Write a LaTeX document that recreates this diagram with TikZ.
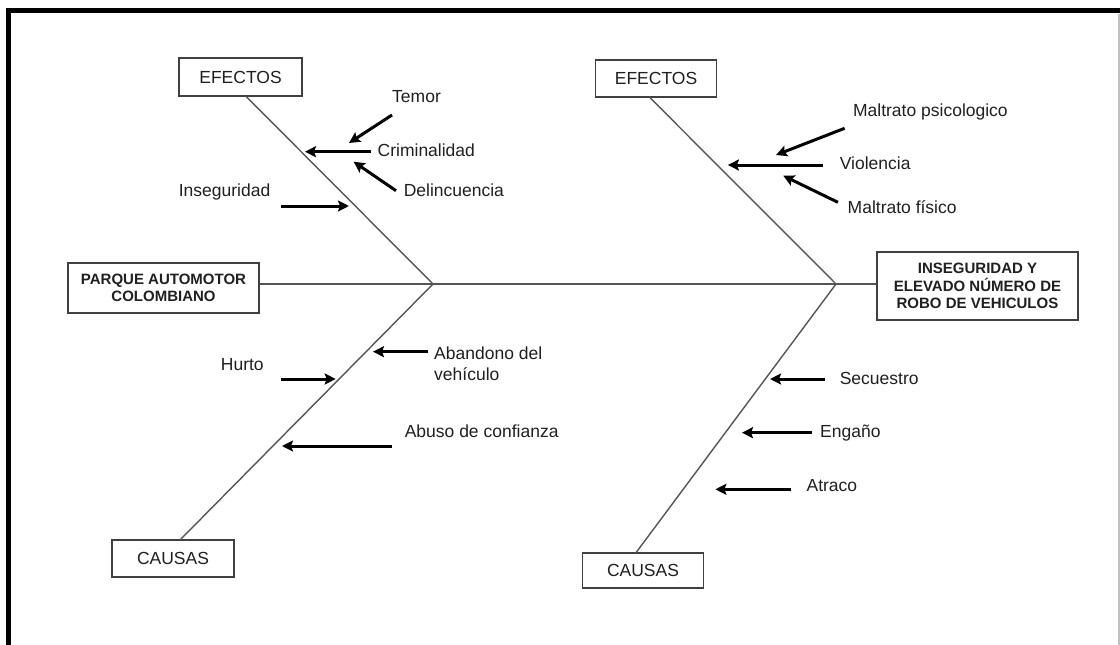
\documentclass[tikz,border=0pt]{standalone}
\usepackage{fontspec}
\setmainfont{Liberation Sans}
\usetikzlibrary{arrows.meta}
\definecolor{txt}{HTML}{202020}
\definecolor{boxc}{HTML}{404040}
\definecolor{bonec}{HTML}{555555}
\begin{document}
\begin{tikzpicture}[x=1pt,y=-1pt,
  box/.style={draw=boxc,line width=1.6pt,inner sep=0pt,text=txt,align=center},
  boxtxt/.style={font=\fontsize{17.5}{20}\selectfont},
  boldtxt/.style={font=\bfseries\fontsize{15}{17.5}\selectfont},
  lbl/.style={anchor=west,inner sep=0pt,text=txt,font=\fontsize{17.5}{20}\selectfont,text height=0.72em,text depth=0pt},
  bone/.style={draw=bonec,line width=1.4pt},
  arr/.style={-{Stealth[length=11pt,width=11pt,inset=2pt]},line width=3pt,draw=black}]
\useasboundingbox (0,0) rectangle (1120,645);
\fill[white] (0,0) rectangle (1120,645);
% frame
\draw[line width=5pt,line join=miter] (8,645) -- (8,10.8) -- (1120,10.8);
\draw[black!25,line width=1.2pt] (1119,13.5) -- (1119,645);

% boxes
\node[box,boxtxt,minimum width=123pt,minimum height=38pt] (ef1) at (240.5,77) {EFECTOS};
\node[box,boxtxt,minimum width=121pt,minimum height=37pt] (ef2) at (656,78.3) {EFECTOS};
\node[box,boldtxt,minimum width=191pt,minimum height=50pt] (park) at (163.5,288) {PARQUE AUTOMOTOR\\COLOMBIANO};
\node[box,boldtxt,minimum width=201pt,minimum height=68pt] (ins) at (977.5,286) {INSEGURIDAD Y\\ELEVADO NÚMERO DE\\ROBO DE VEHICULOS};
\node[box,boxtxt,minimum width=122pt,minimum height=37pt] (ca1) at (173,558.3) {CAUSAS};
\node[box,boxtxt,minimum width=121pt,minimum height=35pt] (ca2) at (643,570.2) {CAUSAS};

% skeleton
\coordinate (jL) at (433,284);
\coordinate (jR) at (836,284);
\coordinate (b1) at (245.7,96);
\coordinate (b2) at (649,96.7);
\coordinate (b3) at (180,540);
\coordinate (b4) at (636,552.7);
\draw[bone] (park.east |- jL) -- (jL) -- (jR) -- (ins.west |- jR);
\draw[bone] (b1) -- (jL) -- (b3);
\draw[bone] (b2) -- (jR) -- (b4);

% labels
\node[lbl] (temor) at (392,99.3) {Temor};
\node[lbl] (crim) at (377.5,153) {Criminalidad};
\node[lbl] (delin) at (403.6,193) {Delincuencia};
\node[lbl] (inseg) at (178.6,193) {Inseguridad};
\node[lbl] (mpsi) at (852.9,113.3) {Maltrato psicologico};
\node[lbl] (viol) at (839.6,165.7) {Violencia};
\node[lbl] (mfis) at (847.5,210) {Maltrato físico};
\node[lbl] (hurto) at (220.7,366.7) {Hurto};
\node[anchor=north west,inner sep=0pt,text=txt,align=left,font=\fontsize{17.5}{20.7}\selectfont] (aband) at (434,347) {Abandono del\\vehículo};
\node[lbl] (abuso) at (404.6,434.3) {Abuso de confianza};
\node[lbl] (secu) at (839.6,380.7) {Secuestro};
\node[lbl] (enga) at (820,434.3) {Engaño};
\node[lbl] (atra) at (806.4,488.3) {Atraco};

% arrow end points
\coordinate (tS) at (392,115);   \coordinate (tE) at (349,143);
\coordinate (cS) at (371,151.7); \coordinate (cE) at (305,151.7);
\coordinate (dS) at (396,190.7); \coordinate (dE) at (353.6,161.7);
\coordinate (iS) at (281,206);   \coordinate (iE) at (349,206);
\coordinate (pS) at (844.6,128.3); \coordinate (pE) at (776,155);
\coordinate (vS) at (822.5,165); \coordinate (vE) at (727.9,165);
\coordinate (fS) at (837.9,202.3); \coordinate (fE) at (783.2,175.7);
\coordinate (hS) at (281,379);   \coordinate (hE) at (335.7,379);
\coordinate (aS) at (428,351.7); \coordinate (aE) at (373,351.7);
\coordinate (uS) at (391.8,446); \coordinate (uE) at (282,446);
\coordinate (sS) at (825,379);   \coordinate (sE) at (770,379);
\coordinate (eS) at (811.8,432.7); \coordinate (eE) at (742,432.7);
\coordinate (xS) at (791.4,489.3); \coordinate (xE) at (715.4,489.3);

\draw[arr] (tS) -- (tE);
\draw[arr] (cS) -- (cE);
\draw[arr] (dS) -- (dE);
\draw[arr] (iS) -- (iE);
\draw[arr] (pS) -- (pE);
\draw[arr] (vS) -- (vE);
\draw[arr] (fS) -- (fE);
\draw[arr] (hS) -- (hE);
\draw[arr] (aS) -- (aE);
\draw[arr] (uS) -- (uE);
\draw[arr] (sS) -- (sE);
\draw[arr] (eS) -- (eE);
\draw[arr] (xS) -- (xE);
\end{tikzpicture}
\end{document}
